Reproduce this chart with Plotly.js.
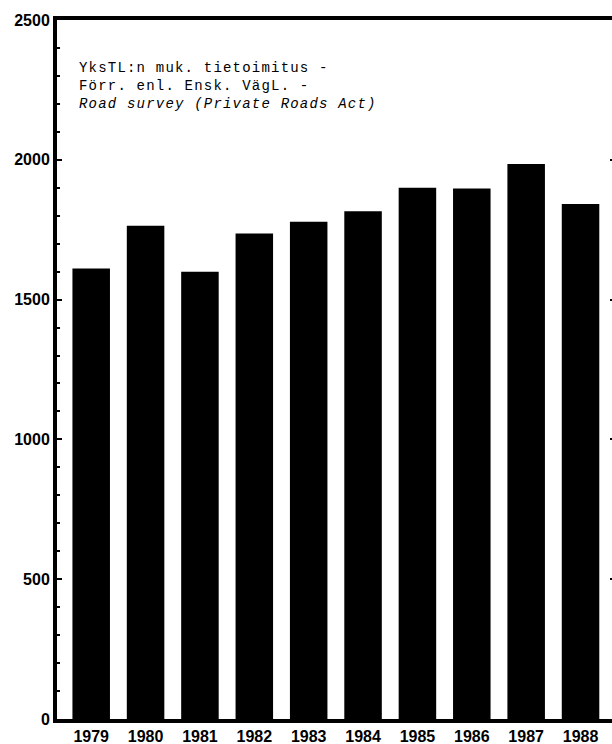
<!DOCTYPE html>
<html>
<head>
<meta charset="utf-8">
<script src="https://cdn.plot.ly/plotly-3.0.1.min.js"></script>
<style>
html,body{margin:0;padding:0;overflow:hidden;background:#fff;}
#chart{width:613px;height:744px;}
.annotation-text{letter-spacing:1.2px;}
</style>
</head>
<body>
<div id="chart"></div>
<script>
const years = [1979, 1980, 1981, 1982, 1983, 1984, 1985, 1986, 1987, 1988];
const values = [1611, 1764, 1600, 1736, 1778, 1816, 1900, 1897, 1985, 1842];
const yTickVals = [0, 500, 1000, 1500, 2000, 2500];
const rightTickVals = [500, 1000, 1500, 2000];
const titleLines = ["YksTL:n muk. tietoimitus -", "Förr. enl. Ensk. VägL. -", "<i>Road survey (Private Roads Act)</i>"];

const tickFont = {family: "Liberation Sans, Arial, sans-serif", size: 16, weight: "bold", color: "#000"};

const traces = [
  {type: "bar", x: years, y: values, width: 0.69,
   marker: {color: "#000", line: {width: 0}}, hoverinfo: "skip", showlegend: false},
  {type: "scatter", x: [], y: [], yaxis: "y2", hoverinfo: "skip", showlegend: false}
];

const annotations = [{
  text: titleLines.join("<br>"), xref: "paper", yref: "paper", x: 0.036, y: 0.9456,
  xanchor: "left", yanchor: "top", align: "left", showarrow: false,
  font: {family: "Liberation Mono, Courier New, monospace", size: 14, color: "#000"}
}];

const layout = {
  width: 613, height: 744,
  margin: {l: 57, r: 0, t: 20, b: 25},
  paper_bgcolor: "#fff", plot_bgcolor: "#fff",
  showlegend: false,
  xaxis: {
    range: [1978.371, 1988.597], tickmode: "array", tickvals: years, ticktext: years.map(String),
    showline: true, linewidth: 4, linecolor: "#000", mirror: true,
    ticks: "", showgrid: false, zeroline: false, tickfont: tickFont
  },
  yaxis: {
    range: [0, 2500], tickmode: "array", tickvals: yTickVals,
    ticks: "inside", ticklen: 5, tickwidth: 2, tickcolor: "#000",
    showline: true, linewidth: 4, linecolor: "#000",
    showgrid: false, zeroline: false, tickfont: tickFont,
    minor: {tickmode: "linear", tick0: 0, dtick: 100, ticks: "inside", ticklen: 3, tickwidth: 2, tickcolor: "#000", showgrid: false}
  },
  yaxis2: {
    overlaying: "y", side: "right", range: [0, 2500], tickmode: "array", tickvals: rightTickVals,
    ticks: "inside", ticklen: 3, tickwidth: 2, tickcolor: "#000",
    showticklabels: false, showline: false, showgrid: false, zeroline: false
  },
  annotations: annotations
};

Plotly.newPlot("chart", traces, layout, {staticPlot: true, displayModeBar: false});
</script>
</body>
</html>
